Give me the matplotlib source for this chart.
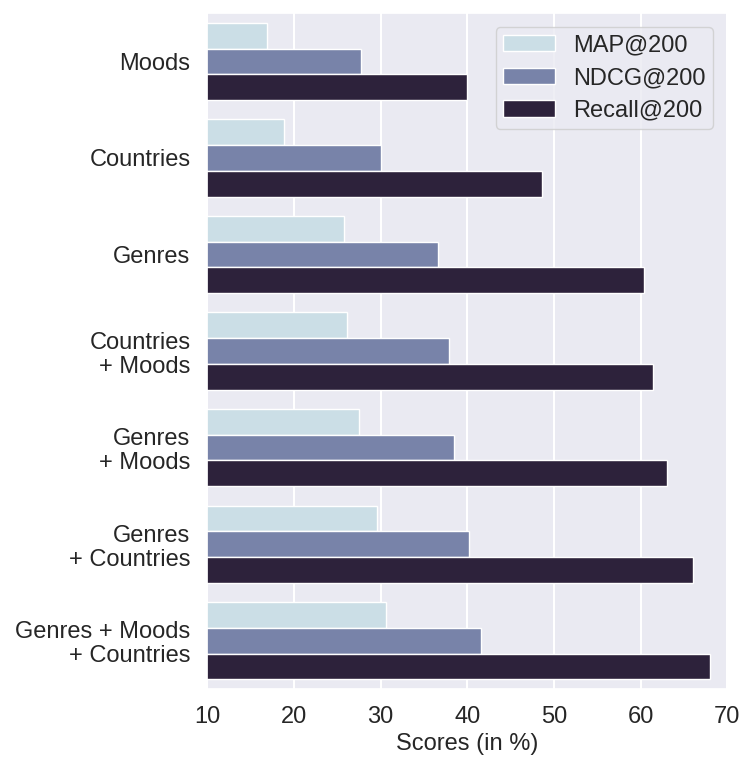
import matplotlib
matplotlib.use("Agg")
import matplotlib.pyplot as plt
import numpy as np
import seaborn as sns

categories = ["Moods", "Countries", "Genres", "Countries\n+ Moods", "Genres\n+ Moods",
              "Genres\n+ Countries", "Genres + Moods\n+ Countries"]
series_names = ["MAP@200", "NDCG@200", "Recall@200"]
map_vals = [16.9, 18.9, 25.8, 26.1, 27.5, 29.6, 30.6]
ndcg_vals = [27.8, 30.1, 36.6, 37.9, 38.5, 40.2, 41.6]
recall_vals = [40.0, 48.6, 60.4, 61.4, 63.0, 66.0, 68.0]
x_ticks = [10, 20, 30, 40, 50, 60, 70]

colors = ["#cbdee6", "#7883a9", "#2d223b"]

sns.set_theme(style="darkgrid")
plt.rcParams['font.family'] = ['Liberation Sans', 'DejaVu Sans']

FS = 17
fig = plt.figure(figsize=(7.56, 7.75), dpi=100)
ax = fig.add_axes([0.274, 0.111, 0.688, 0.872])

n = len(series_names)
total = 0.8
h = total / n
y = np.arange(len(categories))
for i, (name, vals) in enumerate(zip(series_names, [map_vals, ndcg_vals, recall_vals])):
    ax.barh(y - total / 2 + h * (i + 0.5), vals, height=h, color=colors[i],
            edgecolor="white", linewidth=1.0, label=name, zorder=2)

ax.set_yticks(y)
ax.set_yticklabels(categories, fontsize=FS, linespacing=1.12)
ax.set_ylim(len(categories) - 0.5, -0.5)
ax.set_xlim(10, 70)
ax.set_xticks(x_ticks)
ax.set_xticklabels([str(t) for t in x_ticks], fontsize=FS)
ax.set_xlabel("Scores (in %)", fontsize=FS)
ax.tick_params(axis='both', pad=6)
ax.grid(axis='y', visible=False)
ax.grid(axis='x', color='white', linewidth=1.5)
ax.set_axisbelow(True)

leg = ax.legend(loc="upper right", fontsize=FS, handlelength=2.2, borderpad=0.3,
                labelspacing=0.45, borderaxespad=0.6)

fig.savefig("out.png", dpi=100)
